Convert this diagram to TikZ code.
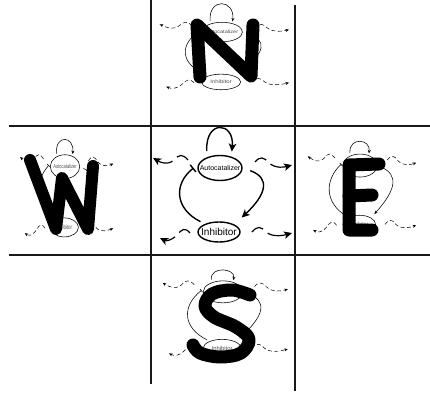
\documentclass[tikz,border=0pt]{standalone}
\usepackage{fontspec}
\setmainfont{Liberation Sans}
\usetikzlibrary{arrows.meta,shapes.geometric}
\pgfkeys{/motif/loop/.initial=38}
\tikzset{
  mline/.style={line width=1.4pt},
  mwavel/.style={line width=1.2pt},
  mhead/.style={-{Stealth[length=8pt,width=7.5pt,inset=2pt]}},
  mbar/.style={-{Bar[width=9pt]}},
  mdash/.style={dash pattern=on 13pt off 6pt on 30pt off 6pt},
  shloop/.style={shorten <=6pt, shorten >=5pt},
  shact/.style={shorten <=8pt, shorten >=10pt},
  shinh/.style={shorten <=5pt, shorten >=6pt},
  afont/.style={font=\fontsize{7}{8}\selectfont},
  ifont/.style={font=\fontsize{10}{11}\selectfont},
  mtext/.style={text=black},
  anode/.style={ellipse, draw, mline, inner sep=0pt, minimum width=44pt, minimum height=25pt, transform shape, afont, mtext},
  inode/.style={ellipse, draw, mline, inner sep=0pt, minimum width=42pt, minimum height=20pt, transform shape, ifont, mtext},
  loopheight/.code={\pgfkeys{/motif/loop=#1}},
  small/.style={
    mline/.style={line width=0.55pt},
    mwavel/.style={line width=0.5pt},
    mhead/.style={-{Stealth[length=3.5pt,width=3pt]}},
    mbar/.style={-{Bar[width=4pt]}},
    mdash/.style={dash pattern=on 4pt off 2.5pt},
    shloop/.style={shorten <=3pt, shorten >=2pt},
    shact/.style={shorten <=4pt, shorten >=5pt},
    shinh/.style={shorten <=3pt, shorten >=3pt},
    afont/.style={font=\fontsize{6}{7}\selectfont},
    ifont/.style={font=\fontsize{6.5}{7}\selectfont},
    mtext/.style={text=black!70}},
  letter/.style={line width=13pt, line cap=round, line join=round, black},
  gridline/.style={line width=2pt, black!90},
  motif/.pic={
    \node[anode] (-a) at (0,-32) {\makebox[0pt]{Autocatalizer}};
    \node[inode] (-i) at (-1,32) {\makebox[0pt]{Inhibitor}};
    \draw[mline, mhead, shloop] (-a.140) .. controls +(-2,-\pgfkeysvalueof{/motif/loop}) and +(3,-\pgfkeysvalueof{/motif/loop}+3) .. (-a.45);
    \draw[mline, mhead, shact] (-a.east) .. controls +(28,10) and +(32,-30) .. (-i.north east);
    \draw[mline, mbar, shinh] (-i.150) .. controls +(-30,-15) and +(-25,20) .. (-a.170);
    \coordinate (-ul0) at (-32,-40); \coordinate (-ul1) at (-46,-40); \coordinate (-ul2) at (-67,-42);
    \coordinate (-ur0) at (35,-38);  \coordinate (-ur1) at (49,-37);  \coordinate (-ur2) at (72,-35);
    \coordinate (-ll0) at (-30,33);  \coordinate (-ll1) at (-43,35);  \coordinate (-ll2) at (-60,38);
    \coordinate (-lr0) at (32,32);   \coordinate (-lr1) at (46,32);   \coordinate (-lr2) at (72,33);
    \draw[mwavel, mdash, mhead] (-ul0) .. controls +(-5,-6) and +(5,-6) .. (-ul1) .. controls +(-7,6) and +(7,4) .. (-ul2);
    \draw[mwavel, mdash, mhead] (-ur0) .. controls +(5,-6) and +(-5,-6) .. (-ur1) .. controls +(7,6) and +(-7,2) .. (-ur2);
    \draw[mwavel, mdash, mhead] (-ll0) .. controls +(-5,-6) and +(5,-6) .. (-ll1) .. controls +(-6,6) and +(6,3) .. (-ll2);
    \draw[mwavel, mdash, mhead] (-lr0) .. controls +(5,-6) and +(-5,-6) .. (-lr1) .. controls +(7,6) and +(-7,2) .. (-lr2);
  }
}
\begin{document}
\begin{tikzpicture}[x=1pt,y=-1pt]
\useasboundingbox (0,0) rectangle (430,395);
% grid
\draw[gridline] (151,0) -- (151,384);
\draw[gridline] (295,5) -- (295,391);
\draw[gridline] (9,126.5) -- (430,126.5);
\draw[gridline] (9,254.5) -- (430,254.5);
% central diagram
\pic (c) at (220,200) {motif};
% copies
\pic[xscale=.93, yscale=.78, small, loopheight=34] (n) at (222,57) {motif};
\pic[xscale=.67, yscale=.95, small, loopheight=24] (w) at (65,197) {motif};
\pic[xscale=.78, yscale=.92, small, loopheight=21] (e) at (360,195) {motif};
\pic[xscale=.9, yscale=.88, small, loopheight=19] (s) at (223,320) {motif};
% letters
\draw[letter] (200,77) -- (197,25) -- (251,76) -- (253,25);
\draw[letter, line width=12pt] (30,160) -- (56,229) -- (62,178) -- (88,229) -- (93,166);
\draw[letter] (379,164) -- (349,165) -- (349,230) -- (372,230);
\draw[letter] (349,196) -- (372,195);
\draw[letter] plot[smooth, tension=.6] coordinates {(250,295) (232,290) (212,294) (205,306) (214,317) (236,327) (249,339) (241,353) (220,357) (200,353) (193,345)};
\end{tikzpicture}
\end{document}
